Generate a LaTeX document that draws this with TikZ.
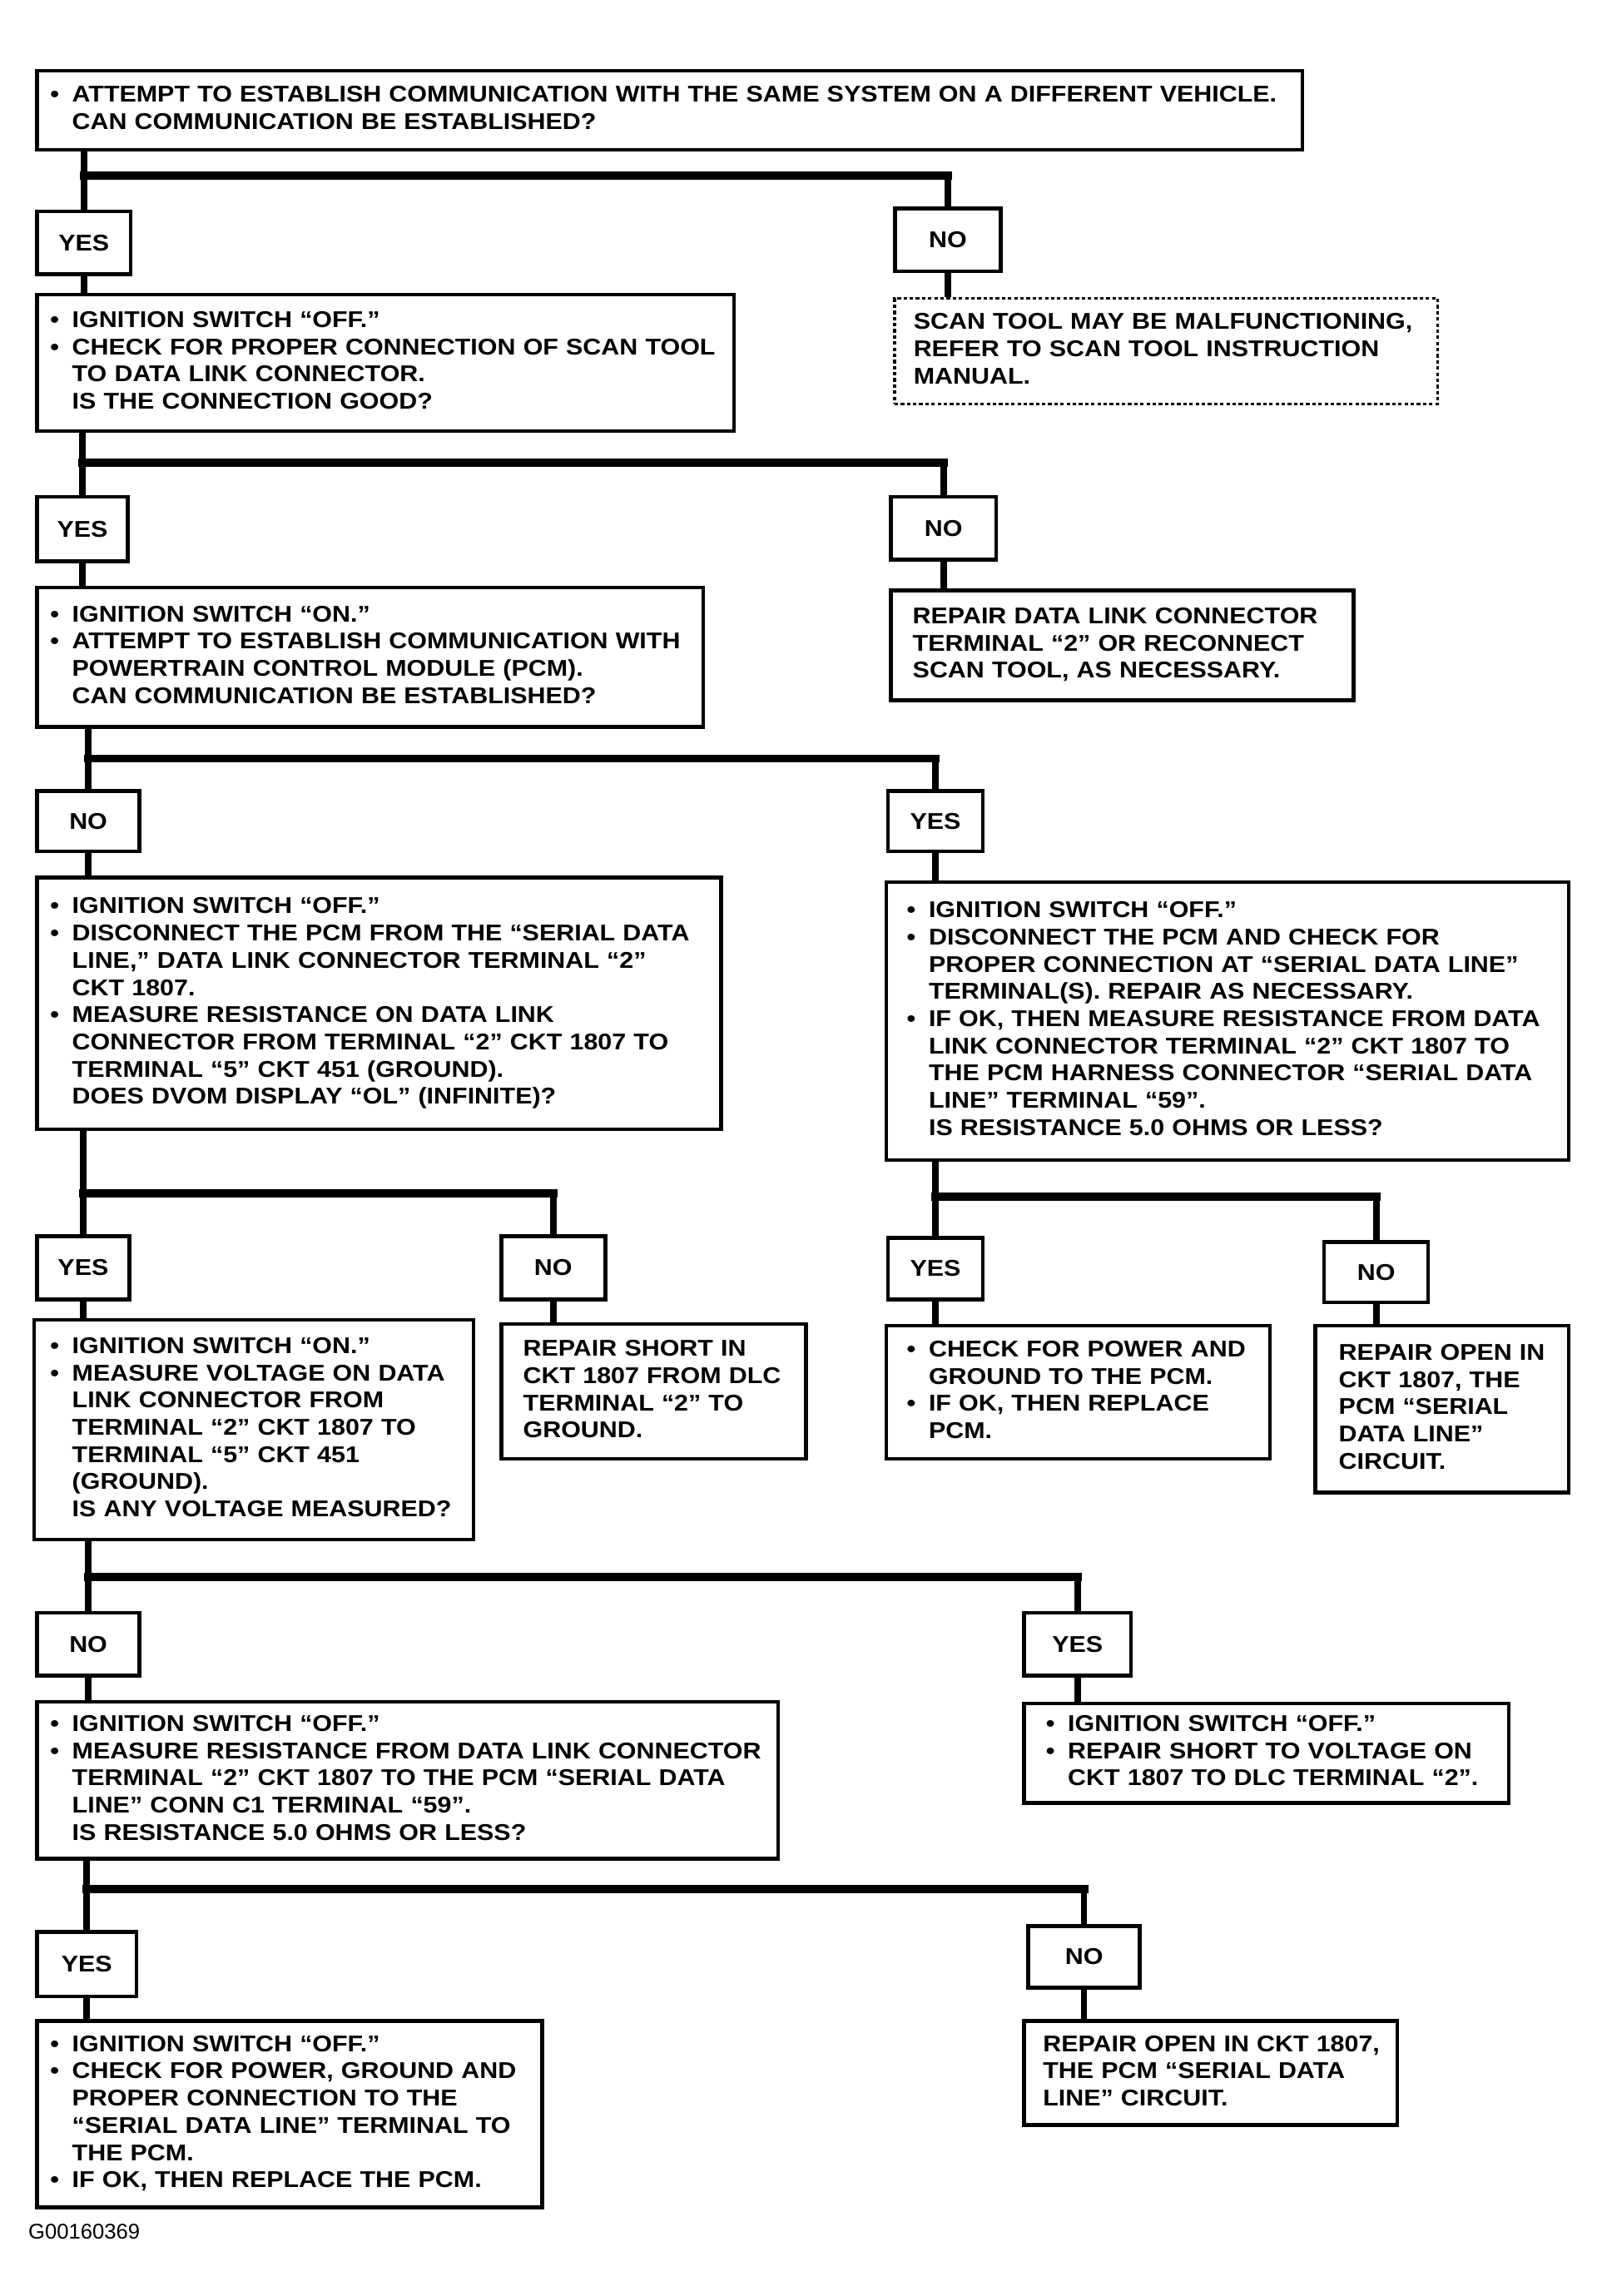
\documentclass[tikz,border=0pt]{standalone}
\usepackage{fontspec}
\usepackage{tikz}
\newfontfamily\chartfont{Liberation Sans}[FakeStretch=1.11]
\newfontfamily\codefont{Liberation Sans}
\newlength{\bulw}
\setlength{\bulw}{7.5pt}
\newcommand{\ux}{0.017596cm}
\newcommand{\bul}{\makebox[\bulw][l]{\textbullet}}
\newcommand{\cnt}{\hspace*{\bulw}}
\newcommand{\boxtext}[1]{\begin{tabular}{@{}l@{}}#1\end{tabular}}

\begin{document}
\begin{tikzpicture}[x=\ux,y=-\ux,
    font=\chartfont\bfseries\fontsize{7.8}{9.3}\selectfont,
    box/.style n args={3}{draw,line width=1.3pt,anchor=north west,
      minimum width=#1*\ux,minimum height=#2*\ux,inner xsep=#3,inner ysep=0pt,
      text width=#1*\ux-2*#3,align=left},
    ans/.style 2 args={draw,line width=1.3pt,anchor=north west,
      minimum width=#1*\ux,minimum height=#2*\ux,inner sep=0pt},
    hint/.style={dash pattern=on 1.2pt off 0.9pt,line width=0.9pt},
    link/.style={line width=2.2pt},
    bar/.style={line width=2.8pt,line cap=rect}]
  \useasboundingbox (0,0) rectangle (1094,1568);

  \node[box={864}{54}{4.5pt}] (q1) at (24,47) {\boxtext{\bul ATTEMPT TO ESTABLISH COMMUNICATION WITH THE SAME SYSTEM ON A DIFFERENT VEHICLE.\\
    \cnt CAN COMMUNICATION BE ESTABLISHED?}};
  \node[ans={64}{43}] (yes1) at (24,143) {YES};
  \node[ans={72}{43}] (no1) at (610,141) {NO};
  \node[box={476}{93}{4.5pt}] (q2) at (24,200) {\boxtext{\bul IGNITION SWITCH “OFF.”\\
    \bul CHECK FOR PROPER CONNECTION OF SCAN TOOL\\
    \cnt TO DATA LINK CONNECTOR.\\
    \cnt IS THE CONNECTION GOOD?}};
  \node[box={371}{72}{6.5pt},hint] (note1) at (610,203) {\boxtext{SCAN TOOL MAY BE MALFUNCTIONING,\\
    REFER TO SCAN TOOL INSTRUCTION\\
    MANUAL.}};

  \node[ans={62}{44}] (yes2) at (24,338) {YES};
  \node[ans={72}{43}] (no2) at (607,338) {NO};
  \node[box={455}{95}{4.5pt}] (q3) at (24,400) {\boxtext{\bul IGNITION SWITCH “ON.”\\
    \bul ATTEMPT TO ESTABLISH COMMUNICATION WITH\\
    \cnt POWERTRAIN CONTROL MODULE (PCM).\\
    \cnt CAN COMMUNICATION BE ESTABLISHED?}};
  \node[box={316}{75}{7.5pt}] (fix1) at (607,402) {\boxtext{REPAIR DATA LINK CONNECTOR\\
    TERMINAL “2” OR RECONNECT\\
    SCAN TOOL, AS NECESSARY.}};

  \node[ans={70}{41}] (no3) at (24,539) {NO};
  \node[ans={65}{41}] (yes3) at (605,539) {YES};
  \node[box={467}{172}{4.5pt}] (q4) at (24,598) {\boxtext{\bul IGNITION SWITCH “OFF.”\\
    \bul DISCONNECT THE PCM FROM THE “SERIAL DATA\\
    \cnt LINE,” DATA LINK CONNECTOR TERMINAL “2”\\
    \cnt CKT 1807.\\
    \bul MEASURE RESISTANCE ON DATA LINK\\
    \cnt CONNECTOR FROM TERMINAL “2” CKT 1807 TO\\
    \cnt TERMINAL “5” CKT 451 (GROUND).\\
    \cnt DOES DVOM DISPLAY “OL” (INFINITE)?}};
  \node[box={466}{190}{7pt}] (q5) at (604,601) {\boxtext{\bul IGNITION SWITCH “OFF.”\\
    \bul DISCONNECT THE PCM AND CHECK FOR\\
    \cnt PROPER CONNECTION AT “SERIAL DATA LINE”\\
    \cnt TERMINAL(S). REPAIR AS NECESSARY.\\
    \bul IF OK, THEN MEASURE RESISTANCE FROM DATA\\
    \cnt LINK CONNECTOR TERMINAL “2” CKT 1807 TO\\
    \cnt THE PCM HARNESS CONNECTOR “SERIAL DATA\\
    \cnt LINE” TERMINAL “59”.\\
    \cnt IS RESISTANCE 5.0 OHMS OR LESS?}};

  \node[ans={63}{43}] (yes4) at (24,843) {YES};
  \node[ans={71}{43}] (no4) at (341,843) {NO};
  \node[ans={65}{42}] (yes5) at (605,844) {YES};
  \node[ans={71}{41}] (no5) at (903,847) {NO};
  \node[box={300}{150}{5.5pt}] (q6) at (22,900) {\boxtext{\bul IGNITION SWITCH “ON.”\\
    \bul MEASURE VOLTAGE ON DATA\\
    \cnt LINK CONNECTOR FROM\\
    \cnt TERMINAL “2” CKT 1807 TO\\
    \cnt TERMINAL “5” CKT 451\\
    \cnt (GROUND).\\
    \cnt IS ANY VOLTAGE MEASURED?}};
  \node[box={208}{92}{7.5pt}] (fix2) at (341,903) {\boxtext{REPAIR SHORT IN\\
    CKT 1807 FROM DLC\\
    TERMINAL “2” TO\\
    GROUND.}};
  \node[box={262}{91}{7pt}] (fix3) at (604,904) {\boxtext{\bul CHECK FOR POWER AND\\
    \cnt GROUND TO THE PCM.\\
    \bul IF OK, THEN REPLACE\\
    \cnt PCM.}};
  \node[box={173}{114}{8pt}] (fix4) at (897,904) {\boxtext{REPAIR OPEN IN\\
    CKT 1807, THE\\
    PCM “SERIAL\\
    DATA LINE”\\
    CIRCUIT.}};

  \node[ans={70}{43}] (no6) at (24,1100) {NO};
  \node[ans={73}{43}] (yes6) at (698,1100) {YES};
  \node[box={506}{107}{4.5pt}] (q7) at (24,1161) {\boxtext{\bul IGNITION SWITCH “OFF.”\\
    \bul MEASURE RESISTANCE FROM DATA LINK CONNECTOR\\
    \cnt TERMINAL “2” CKT 1807 TO THE PCM “SERIAL DATA\\
    \cnt LINE” CONN C1 TERMINAL “59”.\\
    \cnt IS RESISTANCE 5.0 OHMS OR LESS?}};
  \node[box={331}{68}{7.5pt}] (fix5) at (698,1162) {\boxtext{\bul IGNITION SWITCH “OFF.”\\
    \bul REPAIR SHORT TO VOLTAGE ON\\
    \cnt CKT 1807 TO DLC TERMINAL “2”.}};

  \node[ans={68}{44}] (yes7) at (24,1318) {YES};
  \node[ans={76}{42}] (no7) at (701,1314) {NO};
  \node[box={345}{127}{4.5pt}] (fix6) at (24,1379) {\boxtext{\bul IGNITION SWITCH “OFF.”\\
    \bul CHECK FOR POWER, GROUND AND\\
    \cnt PROPER CONNECTION TO THE\\
    \cnt “SERIAL DATA LINE” TERMINAL TO\\
    \cnt THE PCM.\\
    \bul IF OK, THEN REPLACE THE PCM.}};
  \node[box={255}{71}{6.5pt}] (fix7) at (698,1379) {\boxtext{REPAIR OPEN IN CKT 1807,\\
    THE PCM “SERIAL DATA\\
    LINE” CIRCUIT.}};

  \node[anchor=west,inner sep=0pt,font=\codefont\fontsize{7.3}{8}\selectfont] (code) at (19,1524) {G00160369};

  % branch points
  \coordinate (j1) at (yes1.north |- 0,120);
  \coordinate (j2) at (yes2.north |- 0,316);
  \coordinate (j3) at (no3.north |- 0,518);
  \coordinate (j4) at (yes4.north |- 0,815);
  \coordinate (j5) at (yes5.north |- 0,817);
  \coordinate (j6) at (no6.north |- 0,1077);
  \coordinate (j7) at (yes7.north |- 0,1290);

  \path[bar]
    (j1) edge (j1 -| no1.north)
    (j2) edge (j2 -| no2.north)
    (j3) edge (j3 -| yes3.north)
    (j4) edge (j4 -| no4.north)
    (j5) edge (j5 -| no5.north)
    (j6) edge (j6 -| yes6.north)
    (j7) edge (j7 -| no7.north);

  \path[link]
    (q1.south -| yes1.north) edge (yes1.north)
    (j1 -| no1.north) edge (no1.north)
    (yes1.south) edge (yes1.south |- q2.north)
    (no1.south) edge (no1.south |- note1.north)
    (q2.south -| yes2.north) edge (yes2.north)
    (j2 -| no2.north) edge (no2.north)
    (yes2.south) edge (yes2.south |- q3.north)
    (no2.south) edge (no2.south |- fix1.north)
    (q3.south -| no3.north) edge (no3.north)
    (j3 -| yes3.north) edge (yes3.north)
    (no3.south) edge (no3.south |- q4.north)
    (yes3.south) edge (yes3.south |- q5.north)
    (q4.south -| yes4.north) edge (yes4.north)
    (j4 -| no4.north) edge (no4.north)
    (yes4.south) edge (yes4.south |- q6.north)
    (no4.south) edge (no4.south |- fix2.north)
    (q5.south -| yes5.north) edge (yes5.north)
    (j5 -| no5.north) edge (no5.north)
    (yes5.south) edge (yes5.south |- fix3.north)
    (no5.south) edge (no5.south |- fix4.north)
    (q6.south -| no6.north) edge (no6.north)
    (j6 -| yes6.north) edge (yes6.north)
    (no6.south) edge (no6.south |- q7.north)
    (yes6.south) edge (yes6.south |- fix5.north)
    (q7.south -| yes7.north) edge (yes7.north)
    (j7 -| no7.north) edge (no7.north)
    (yes7.south) edge (yes7.south |- fix6.north)
    (no7.south) edge (no7.south |- fix7.north);
\end{tikzpicture}
\end{document}
